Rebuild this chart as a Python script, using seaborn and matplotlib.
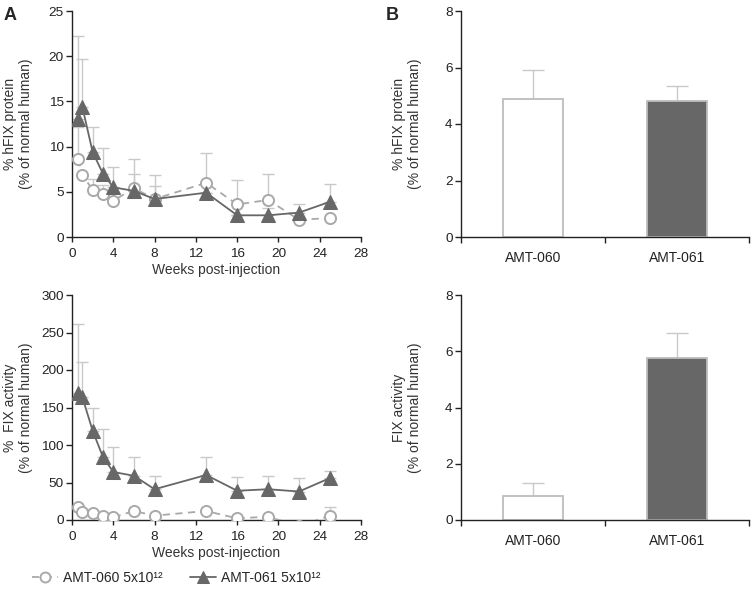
import matplotlib
matplotlib.use("Agg")
import matplotlib.pyplot as plt
import seaborn as sns
import pandas as pd
import numpy as np

weeks = [0.6, 1, 2, 3, 4, 6, 8, 13, 16, 19, 22, 25]

prot_060 = [8.6, 6.9, 5.2, 4.8, 4.0, 5.4, 4.2, 6.0, 3.6, 4.1, 1.9, 2.1]
prot_060_sd = [3.6, 0, 1.2, 0.9, 0, 3.2, 2.65, 3.3, 2.7, 2.9, 0, 0]
prot_061 = [13.1, 14.4, 9.4, 7.0, 5.5, 5.1, 4.2, 4.9, 2.4, 2.4, 2.7, 3.9]
prot_061_sd = [9.1, 5.3, 2.8, 2.9, 2.2, 1.9, 1.4, 0, 0, 0.85, 0.9, 2.0]

act_060 = [16.9, 11.1, 8.9, 5.3, 3.6, 12, 5.8, 12, 2.2, 4.4, -8, 5.8]
act_060_sd = [0, 0, 0, 0, 0, 0, 0, 0, 0, 0, 0, 12]
act_061 = [170, 164, 119, 84, 64, 59, 41, 60, 39, 41, 38, 56]
act_061_sd = [91, 47, 31, 38, 34, 25, 18, 24, 18, 18, 18, 10]

groups = ["AMT-060", "AMT-061"]
prot_bar = [4.88, 4.83]
prot_bar_sd = [1.04, 0.52]
act_bar = [0.85, 5.75]
act_bar_sd = [0.45, 0.89]

legend_labels = ["AMT-060 5x10\u00b9\u00b2", "AMT-061 5x10\u00b9\u00b2"]

sns.set_theme(style="ticks")
plt.rcParams["font.family"] = ["Liberation Sans", "DejaVu Sans"]
plt.rcParams["font.size"] = 10

light = "#a9a9a9"
dark = "#676767"
err_col = "#c9c9c9"

fig = plt.figure(figsize=(7.52, 5.93), dpi=100)
ax1 = fig.add_axes([72/752, 1-237/593, 289/752, 226/593])
ax2 = fig.add_axes([72/752, 1-520/593, 289/752, 225/593])
ax3 = fig.add_axes([461/752, 1-237/593, 288/752, 226/593])
ax4 = fig.add_axes([461/752, 1-520/593, 288/752, 225/593])


def time_panel(ax, y060, sd060, y061, sd061, ylim, ystep, ylabel):
    zero = np.zeros(len(weeks))
    ax.errorbar(weeks, y060, yerr=[zero, sd060], fmt="none", ecolor=err_col,
                elinewidth=1, capsize=4, capthick=1, zorder=1)
    ax.errorbar(weeks, y061, yerr=[zero, sd061], fmt="none", ecolor=err_col,
                elinewidth=1, capsize=4, capthick=1, zorder=1)
    df060 = pd.DataFrame({"weeks": weeks, "value": y060})
    df061 = pd.DataFrame({"weeks": weeks, "value": y061})
    sns.lineplot(data=df060, x="weeks", y="value", ax=ax, color=light,
                 linestyle=(0, (4, 3)), linewidth=1.3, marker="o",
                 markersize=8, markerfacecolor="white", markeredgecolor=light,
                 markeredgewidth=1.4, label=legend_labels[0], zorder=3)
    sns.lineplot(data=df061, x="weeks", y="value", ax=ax, color=dark,
                 linewidth=1.3, marker="^", markersize=10,
                 markerfacecolor=dark, markeredgecolor=dark,
                 label=legend_labels[1], zorder=4)
    ax.set_xlim(0, 28)
    ax.set_xticks(range(0, 29, 4))
    ax.set_ylim(0, ylim)
    ax.set_yticks(np.arange(0, ylim + 1, ystep))
    ax.set_xlabel("Weeks post-injection", labelpad=2, fontsize=10)
    ax.set_ylabel(ylabel)
    ax.get_legend().remove()
    ax.tick_params(axis="x", length=3.5, pad=4.5, labelsize=9.7)
    ax.tick_params(axis="y", length=4.5, pad=1.5, labelsize=9.7)


def bar_panel(ax, vals, sds, ylabel):
    df = pd.DataFrame({"group": groups, "value": vals})
    sns.barplot(data=df, x="group", y="value", ax=ax, width=0.42,
                palette=["white", dark], hue="group", legend=False,
                edgecolor="#bdbdbd", linewidth=1.3, errorbar=None)
    ax.errorbar([0, 1], vals, yerr=[[0, 0], sds], fmt="none", ecolor=err_col,
                elinewidth=1, capsize=8, capthick=1, zorder=0)
    ax.set_xlim(-0.5, 1.5)
    ax.set_xticks([-0.5, 0.5, 1.5], minor=True)
    ax.tick_params(axis="x", which="major", length=0, pad=10, labelsize=10)
    ax.tick_params(axis="x", which="minor", length=4)
    ax.tick_params(axis="y", length=4.5, pad=1.5, labelsize=9.7)
    ax.set_ylim(0, 8)
    ax.set_yticks([0, 2, 4, 6, 8])
    ax.set_xlabel("")
    ax.set_ylabel(ylabel)


time_panel(ax1, prot_060, prot_060_sd, prot_061, prot_061_sd, 25, 5,
           "% hFIX protein\n(% of normal human)")
time_panel(ax2, act_060, act_060_sd, act_061, act_061_sd, 300, 50,
           "%  FIX activity\n(% of normal human)")
bar_panel(ax3, prot_bar, prot_bar_sd, "% hFIX protein\n(% of normal human)")
bar_panel(ax4, act_bar, act_bar_sd, "FIX activity\n(% of normal human)")

for ax in [ax1, ax2, ax3, ax4]:
    sns.despine(ax=ax)
    ax.tick_params(axis="both", which="both", width=1,
                   color="#222222", labelcolor="#222222")
    for s in ["left", "bottom"]:
        ax.spines[s].set_color("#222222")
        ax.spines[s].set_linewidth(1)
    ax.yaxis.label.set_size(10)
    ax.yaxis.label.set_color("#333333")
    ax.xaxis.label.set_color("#333333")
    ax.yaxis.set_label_coords(-0.135, 0.5)

fig.text(4/752, 1-16/593, "A", fontsize=13, fontweight="bold", va="center")
fig.text(386/752, 1-16/593, "B", fontsize=13, fontweight="bold", va="center")

handles, labels = ax2.get_legend_handles_labels()
fig.legend(handles, labels, loc="center", bbox_to_anchor=(176/752, 1-578/593),
           ncol=2, frameon=False, fontsize=10, handlelength=1.9,
           columnspacing=2.0, handletextpad=0.3, markerscale=0.9)

plt.savefig("out.png", dpi=100)
